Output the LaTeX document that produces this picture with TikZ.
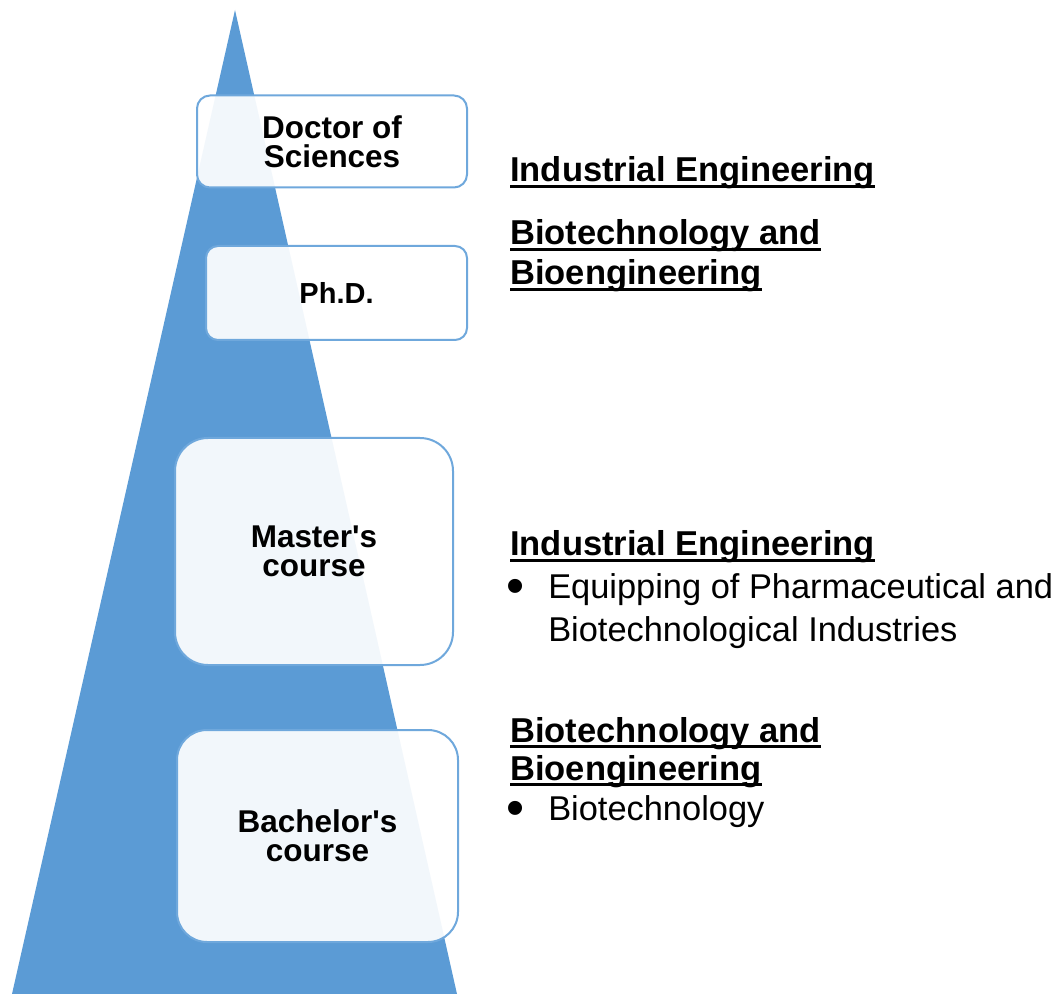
\documentclass[tikz,border=0pt]{standalone}
\usepackage{fontspec}
\setmainfont{Liberation Sans}
\definecolor{pyramid}{HTML}{5B9BD5}
\definecolor{boxline}{HTML}{6FA8DC}
% underlined heading
\newcommand{\undl}[1]{\setbox0\hbox{#1}\rlap{\rule[-4.7pt]{\wd0}{2.2pt}}\box0}
% list bullet
\newcommand{\bigbul}{\raisebox{-4pt}{\scalebox{1.5}{•}}}
\tikzset{
 level/.style={draw=boxline, line width=1.5pt, fill=white, fill opacity=0.92, text opacity=1, inner sep=0pt, align=center, font=\fontsize{23.6}{21.6}\selectfont\bfseries},
 head/.style={anchor=base west, inner sep=0pt, font=\fontsize{25.9}{30}\selectfont\bfseries},
 item/.style={anchor=base west, inner sep=0pt, font=\fontsize{25.8}{30}\selectfont},
}
\begin{document}
\begin{tikzpicture}[x=0.75pt,y=-0.75pt]
 \useasboundingbox (0,0) rectangle (1060,994);
 % pyramid
 \fill[pyramid] (235,10) -- (457,994) -- (12,994) -- cycle;
 % levels
 \node[level, minimum width=202.5pt, minimum height=69pt, rounded corners=9.75pt] (doc) at (332,141.5) {Doctor of\\Sciences};
 \node[level, minimum width=195.75pt, minimum height=70.5pt, rounded corners=9pt, font=\fontsize{21.75}{21}\selectfont\bfseries] (phd) at (336.5,293) {Ph.D.};
 \node[level, minimum width=208.5pt, minimum height=170.25pt, rounded corners=24.75pt] (mas) at (314,551.5) {Master\textquotesingle s\\course};
 \node[level, minimum width=210.75pt, minimum height=159pt, rounded corners=22.5pt] (bac) at (317.5,836) {Bachelor\textquotesingle s\\course};
 % programmes
 \node[head] (ie1) at (510,181.7) {\undl{Industrial Engineering}};
 \node[head] (bb1a) at (510,245) {\undl{Biotechnology and}};
 \node[head] (bb1b) at (510,285) {\undl{Bioengineering}};
 \node[head] (ie2) at (510,556) {\undl{Industrial Engineering}};
 \node[item] (dot1) at (506,598) {\bigbul};
 \node[item] (eq1) at (548,598) {Equipping of Pharmaceutical and};
 \node[item] (eq2) at (548,641) {Biotechnological Industries};
 \node[head] (bb2a) at (510,742) {\undl{Biotechnology and}};
 \node[head] (bb2b) at (510,780) {\undl{Bioengineering}};
 \node[item] (dot2) at (506,820) {\bigbul};
 \node[item] (bt) at (548,820) {Biotechnology};
\end{tikzpicture}
\end{document}
